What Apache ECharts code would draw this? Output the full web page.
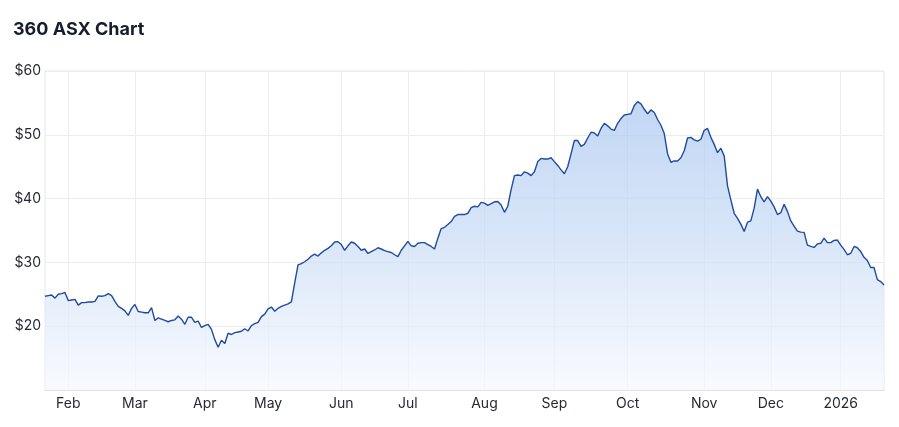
<!DOCTYPE html>
<html>
<head>
<meta charset="utf-8">
<script src="https://cdn.jsdelivr.net/npm/echarts@6/dist/echarts.min.js"></script>
<style>
  html, body { margin: 0; padding: 0; background: #ffffff; }
  #chart { width: 899px; height: 427px; }
</style>
</head>
<body>
<div id="chart"></div>
<script>
// ---- data ----
const chartTitle = '360 ASX Chart';
const firstDay = '2025-01-22';
const lastDay = '2026-01-21';
const marketHolidays = ['2025-01-27','2025-04-18','2025-04-21','2025-04-25','2025-06-09','2025-12-25','2025-12-26','2026-01-01'];
const monthNames = ['Jan','Feb','Mar','Apr','May','Jun','Jul','Aug','Sep','Oct','Nov','Dec'];
const yTicks = [20, 30, 40, 50, 60];
const closePrices = [
  24.7, 24.8, 24.9, 24.4, 25.0, 25.1, 25.3, 24.0, 24.1, 24.2,
  23.3, 23.7, 23.7, 23.8, 23.8, 23.9, 24.75, 24.7, 24.8, 25.1,
  24.8, 23.9, 23.1, 22.8, 22.4, 21.7, 22.8, 23.4, 22.3, 22.2,
  22.1, 22.1, 22.9, 20.9, 21.3, 21.1, 20.9, 20.7, 20.9, 21.0,
  21.6, 21.1, 20.3, 21.4, 21.4, 20.6, 20.8, 19.8, 20.1, 20.3,
  19.5, 17.9, 16.7, 17.8, 17.3, 18.9, 18.7, 19.0, 19.1, 19.2,
  19.6, 19.25, 20.1, 20.4, 20.6, 21.5, 21.9, 22.7, 23.0, 22.35,
  22.8, 23.1, 23.3, 23.5, 23.8, 26.8, 29.6, 29.8, 30.1, 30.5,
  31.0, 31.3, 31.0, 31.5, 31.9, 32.2, 32.6, 33.2, 33.25, 32.8,
  31.9, 32.6, 33.2, 33.0, 32.5, 31.9, 32.1, 31.4, 31.7, 31.95,
  32.3, 32.1, 31.85, 31.7, 31.55, 31.2, 30.9, 31.9, 32.6, 33.3,
  32.6, 32.5, 33.0, 33.1, 33.1, 32.8, 32.5, 32.1, 33.8, 35.3,
  35.5, 35.95, 36.4, 37.2, 37.5, 37.5, 37.5, 37.7, 38.6, 38.8,
  38.7, 39.4, 39.3, 38.95, 39.2, 39.5, 39.55, 39.0, 37.85, 38.8,
  41.4, 43.6, 43.7, 43.6, 44.2, 44.0, 43.6, 44.2, 45.8, 46.3,
  46.2, 46.2, 46.4, 45.8, 45.2, 44.5, 43.9, 45.0, 47.0, 49.1,
  49.1, 48.2, 48.5, 49.5, 50.4, 50.3, 49.8, 51.0, 51.8, 51.4,
  50.9, 50.7, 51.8, 52.55, 53.1, 53.2, 53.3, 54.6, 55.2, 54.85,
  54.0, 53.3, 53.9, 53.5, 52.4, 51.5, 50.2, 47.0, 45.7, 45.9,
  45.9, 46.4, 47.5, 49.5, 49.6, 49.2, 49.0, 49.3, 50.7, 51.0,
  49.6, 48.5, 47.2, 47.9, 46.7, 42.0, 39.8, 37.7, 36.9, 36.0,
  34.85, 36.3, 36.5, 38.5, 41.5, 40.3, 39.5, 40.3, 39.6, 38.7,
  37.5, 37.8, 39.1, 38.0, 36.5, 35.7, 34.9, 34.75, 34.7, 32.7,
  32.5, 32.35, 32.9, 33.0, 33.8, 33.1, 33.1, 33.45, 33.5, 32.7,
  32.05, 31.2, 31.4, 32.5, 32.3, 31.7, 30.8, 30.3, 29.2, 29.2,
  27.3, 27.0, 26.45
];

// ---- trading-day categories ----
function tradingDays(start, end, holidays) {
  const out = [];
  const d = new Date(start + 'T00:00:00Z');
  const e = new Date(end + 'T00:00:00Z');
  while (d <= e) {
    const iso = d.toISOString().slice(0, 10);
    const wd = d.getUTCDay();
    if (wd !== 0 && wd !== 6 && holidays.indexOf(iso) < 0) out.push(iso);
    d.setUTCDate(d.getUTCDate() + 1);
  }
  return out;
}
const dates = tradingDays(firstDay, lastDay, marketHolidays);
function isMonthStart(idx) {
  if (idx === 0) return false;
  return dates[idx].slice(5, 7) !== dates[idx - 1].slice(5, 7);
}
function monthLabel(v) {
  const m = parseInt(v.slice(5, 7), 10) - 1;
  return m === 0 ? v.slice(0, 4) : monthNames[m];
}

const chart = echarts.init(document.getElementById('chart'), null, { renderer: 'canvas' });
chart.setOption({
  animation: false,
  backgroundColor: '#ffffff',
  title: {
    text: chartTitle,
    left: 8, top: 16,
    textStyle: { fontFamily: 'Inter', fontSize: 18, fontWeight: 'bold', color: '#161d2d' }
  },
  grid: {
    left: 45, right: 15, top: 71, bottom: 37,
    show: true, borderColor: '#e6e6e6', borderWidth: 1, backgroundColor: 'transparent'
  },
  xAxis: {
    type: 'category',
    data: dates,
    boundaryGap: false,
    axisLine: { show: true, lineStyle: { color: '#e3e3e3' } },
    axisTick: { show: false },
    axisLabel: {
      interval: (i) => isMonthStart(i),
      formatter: monthLabel,
      fontFamily: 'Inter', fontSize: 14, color: '#262a33', margin: 7
    },
    splitLine: { show: true, interval: (i) => isMonthStart(i), lineStyle: { color: '#ededed' } }
  },
  yAxis: {
    type: 'value',
    min: 10, max: 60, interval: 10,
    axisLine: { show: false },
    axisTick: { show: false },
    axisLabel: {
      formatter: (v) => (yTicks.indexOf(v) >= 0 ? '$' + v : ''),
      fontFamily: 'Inter', fontSize: 14, color: '#262a33', margin: 4
    },
    splitLine: { show: true, lineStyle: { color: '#ededed' } }
  },
  series: [{
    type: 'line',
    data: closePrices,
    symbol: 'none',
    smooth: false,
    lineStyle: { color: '#1f4b9f', width: 1.4 },
    areaStyle: {
      color: new echarts.graphic.LinearGradient(0, 0, 0, 1, [
        { offset: 0, color: '#a8c6f0' },
        { offset: 0.45, color: '#c6daf5' },
        { offset: 1, color: '#f6f9fe' }
      ])
    }
  }]
});
</script>
</body>
</html>
